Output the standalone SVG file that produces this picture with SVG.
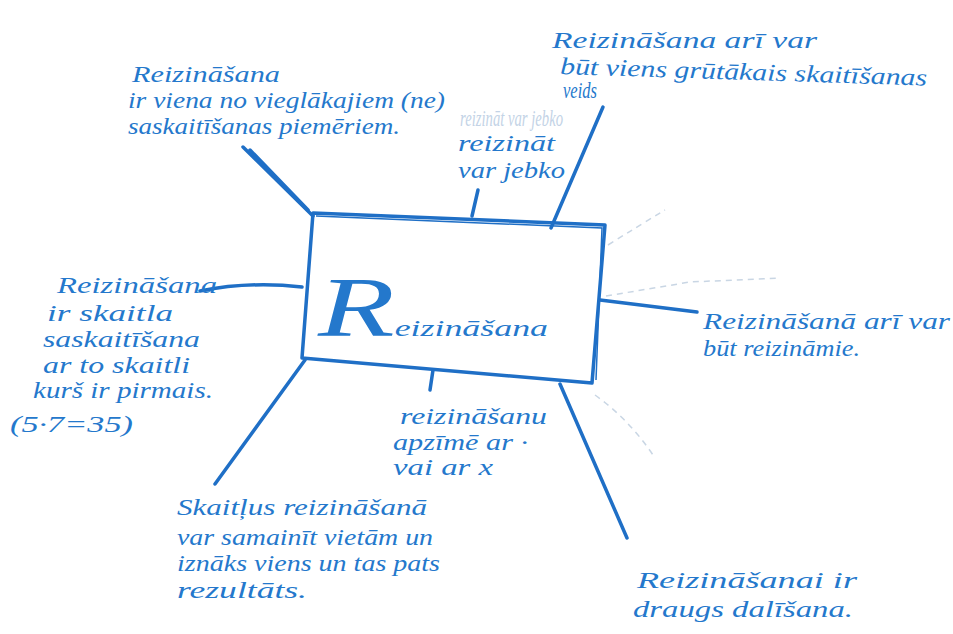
<svg xmlns="http://www.w3.org/2000/svg" width="953" height="634" viewBox="0 0 953 634">
<style>
  .t { font-family: "Liberation Serif", "DejaVu Serif", serif; font-style: italic; fill: #2478cc; font-size: 24px; }
  .faint { fill: #c3d3e6; }
  .c { stroke: #1f6fc6; stroke-width: 3.5; fill: none; stroke-linecap: round; stroke-linejoin: round; }
  .f { stroke: #c9d6e4; stroke-width: 1.5; fill: none; stroke-dasharray: 6 5; }
</style>
<rect width="953" height="634" fill="#ffffff"/>

<g id="connectors">
  <path class="c" d="M243,147 L313,216"/>
  <path class="c" d="M250,150 L308,210" stroke-width="2"/>
  <path class="c" d="M478,190 L472,216"/>
  <path class="c" d="M603,107 L551,228"/>
  <path class="c" d="M200,291 Q250,281 302,287" stroke-width="2.5"/>
  <path class="c" d="M600,300 L697,312"/>
  <path class="c" d="M305,360 L215,484" stroke-width="2.5"/>
  <path class="c" d="M433,370 L430,390"/>
  <path class="c" d="M560,384 L627,538"/>
  <path class="f" d="M606,296 L690,282 L780,278"/>
  <path class="f" d="M608,245 Q640,225 665,210"/>
  <path class="f" d="M595,395 Q630,420 655,458"/>
</g>

<g id="center">
  <polygon points="313,213 605,225 592,383 302,358" fill="none" stroke="#1f6fc6" stroke-width="3.5" stroke-linejoin="round"/>
  <polyline points="316,216 602,228 596,380" fill="none" stroke="#1f6fc6" stroke-width="1.5"/>
  <text class="t" x="318" y="336" font-size="46" textLength="230" lengthAdjust="spacingAndGlyphs"><tspan font-size="84">R</tspan>eizināšana</text>
</g>

<g id="node-top-left">
  <text class="t" x="132" y="82" textLength="148" lengthAdjust="spacingAndGlyphs">Reizināšana</text>
  <text class="t" x="128" y="108" textLength="317" lengthAdjust="spacingAndGlyphs">ir viena no vieglākajiem (ne)</text>
  <text class="t" x="128" y="134" textLength="272" lengthAdjust="spacingAndGlyphs">saskaitīšanas piemēriem.</text>
</g>

<g id="node-top-right">
  <text class="t" x="552" y="48" font-size="27" textLength="265" lengthAdjust="spacingAndGlyphs">Reizināšana arī var</text>
  <text class="t" x="560" y="74" textLength="367" lengthAdjust="spacingAndGlyphs" transform="rotate(1.8 560 74)">būt viens grūtākais skaitīšanas</text>
  <text class="t" x="563" y="98" font-size="20" textLength="34" lengthAdjust="spacingAndGlyphs">veids</text>
</g>

<g id="node-top-middle">
  <text class="t faint" x="460" y="126" font-size="12" textLength="103" lengthAdjust="spacingAndGlyphs">reizināt var jebko</text>
  <text class="t" x="458" y="151" textLength="97" lengthAdjust="spacingAndGlyphs">reizināt</text>
  <text class="t" x="458" y="178" textLength="107" lengthAdjust="spacingAndGlyphs">var jebko</text>
</g>

<g id="node-left">
  <text class="t" x="57" y="293" font-size="30" textLength="160" lengthAdjust="spacingAndGlyphs">Reizināšana</text>
  <text class="t" x="47" y="321" textLength="126" lengthAdjust="spacingAndGlyphs">ir skaitla</text>
  <text class="t" x="43" y="347" textLength="157" lengthAdjust="spacingAndGlyphs">saskaitīšana</text>
  <text class="t" x="43" y="373" textLength="147" lengthAdjust="spacingAndGlyphs">ar to skaitli</text>
  <text class="t" x="33" y="398" textLength="180" lengthAdjust="spacingAndGlyphs">kurš ir pirmais.</text>
  <text class="t" x="10" y="432" font-size="30" textLength="123" lengthAdjust="spacingAndGlyphs">(5·7=35)</text>
</g>

<g id="node-right">
  <text class="t" x="703" y="329" textLength="247" lengthAdjust="spacingAndGlyphs">Reizināšanā arī var</text>
  <text class="t" x="703" y="356" textLength="157" lengthAdjust="spacingAndGlyphs">būt reizināmie.</text>
</g>

<g id="node-bottom-middle">
  <text class="t" x="400" y="424" textLength="147" lengthAdjust="spacingAndGlyphs">reizināšanu</text>
  <text class="t" x="393" y="450" textLength="135" lengthAdjust="spacingAndGlyphs">apzīmē ar ·</text>
  <text class="t" x="393" y="475" textLength="100" lengthAdjust="spacingAndGlyphs">vai ar x</text>
</g>

<g id="node-bottom-left">
  <text class="t" x="177" y="515" textLength="250" lengthAdjust="spacingAndGlyphs">Skaitļus reizināšanā</text>
  <text class="t" x="177" y="545" textLength="256" lengthAdjust="spacingAndGlyphs">var samainīt vietām un</text>
  <text class="t" x="177" y="571" textLength="263" lengthAdjust="spacingAndGlyphs">iznāks viens un tas pats</text>
  <text class="t" x="177" y="598" textLength="130" lengthAdjust="spacingAndGlyphs">rezultāts.</text>
</g>

<g id="node-bottom-right">
  <text class="t" x="637" y="588" font-size="27" textLength="220" lengthAdjust="spacingAndGlyphs">Reizināšanai ir</text>
  <text class="t" x="633" y="617" font-size="27" textLength="220" lengthAdjust="spacingAndGlyphs">draugs dalīšana.</text>
</g>
</svg>
